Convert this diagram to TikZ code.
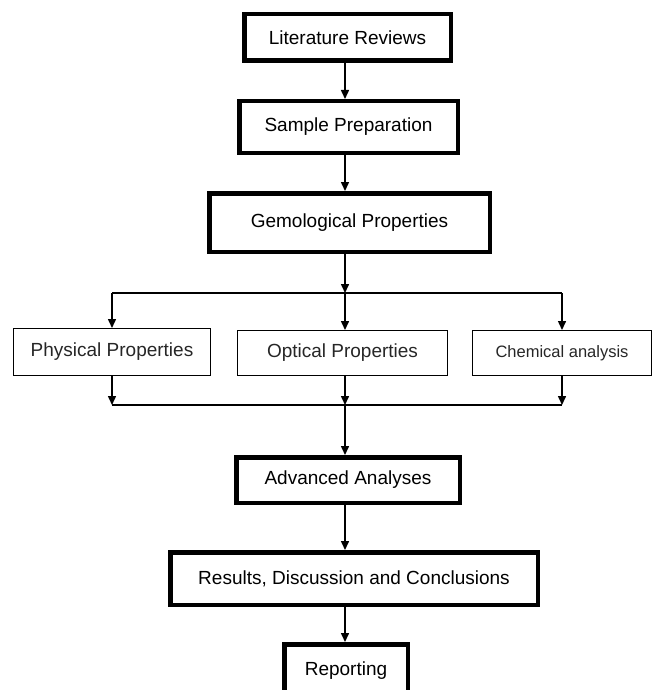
\documentclass[tikz,border=0pt]{standalone}
\usepackage{fontspec}
\setmainfont{Liberation Sans}
\usetikzlibrary{positioning,arrows.meta}

\tikzset{
  mainbox/.style={draw,line width=4.5pt,inner sep=2pt,font=\fontsize{19}{22}\selectfont},
  subbox/.style={draw,line width=1.2pt,inner sep=2pt,text=black!85,font=\fontsize{19}{22}\selectfont},
  flow/.style={->,line width=1.5pt},
}

\begin{document}
\begin{tikzpicture}[x=1pt,y=-1pt,>={Triangle[length=9pt,width=8pt]}]
\useasboundingbox (0,0) rectangle (656,690);
% main column
\node[mainbox,minimum width=206.5pt,minimum height=46.5pt] (lit) at (347.5,37.5) {Literature Reviews};
\node[mainbox,minimum width=218.5pt,minimum height=51.5pt] (prep) at (348.5,127) {Sample Preparation};
\node[mainbox,minimum width=280.5pt,minimum height=58.5pt] (gem) at (349.5,222.5) {Gemological Properties};
% properties
\node[subbox,minimum width=196.8pt,minimum height=46.8pt] (phys) at (112,352) {Physical Properties};
\node[subbox,minimum width=209.8pt,minimum height=44.8pt] (opt) at (342.5,353) {Optical Properties};
\node[subbox,minimum width=178.8pt,minimum height=44.8pt,font=\fontsize{16.5}{20}\selectfont] (chem) at (562,353) {Chemical analysis};
\coordinate (split) at (345,293);
\coordinate (join) at (345,405);
% analyses and results
\node[mainbox,minimum width=223.5pt,minimum height=45.5pt] (adv) at (348,480) {Advanced Analyses};
\node[mainbox,minimum width=367.5pt,minimum height=52.5pt] (res) at (354,578.5) {Results, Discussion and Conclusions};
\node[mainbox,minimum width=123.5pt,minimum height=53.5pt] (rep) at (346,671) {Reporting};

\draw[flow] (lit.south -| split) -- (prep.north -| split);
\draw[flow] (prep.south -| split) -- (gem.north -| split);
\draw[flow] (gem.south -| split) -- (split);
\draw[line width=1.3pt] (phys.north |- split) -- (chem.north |- split);
\foreach \n in {phys,chem}
  \draw[flow] (\n.north |- split) -- (\n.north);
\draw[flow] (split) -- (split |- opt.north);
\foreach \n in {phys,chem}
  \draw[flow] (\n.south) -- (\n.south |- join);
\draw[line width=1.3pt] (phys.south |- join) -- (chem.south |- join);
\draw[flow] (join |- opt.south) -- (join);
\draw[flow] (join) -- (join |- adv.north);
\draw[flow] (adv.south -| join) -- (res.north -| join);
\draw[flow] (res.south -| join) -- (rep.north -| join);
\end{tikzpicture}
\end{document}
